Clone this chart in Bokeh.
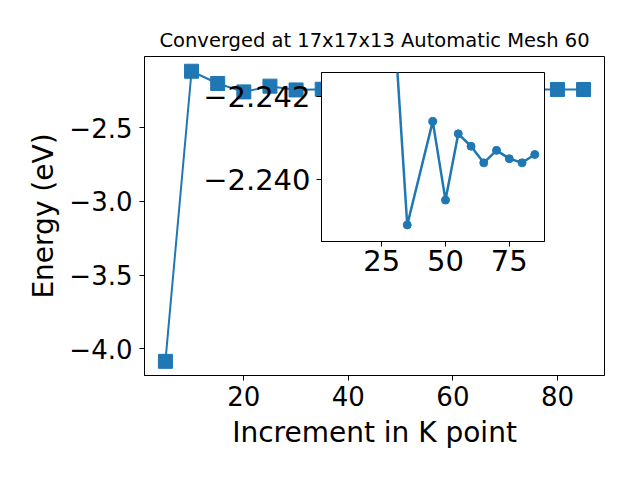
from bokeh.plotting import figure
from bokeh.models import Range1d, FixedTicker
from bokeh.layouts import column
from bokeh.embed import file_html
from bokeh.resources import INLINE

# ---- data ----
k_points = [5, 10, 15, 20, 25, 30, 35, 45, 50, 55, 60, 65, 70, 75, 80, 85]
energy = [-4.084, -2.117, -2.200, -2.257, -2.218, -2.2437, -2.2389, -2.2414,
          -2.2395, -2.2411, -2.2408, -2.2404, -2.2407, -2.2405, -2.2404, -2.2406]
inset_start = 5  # inset shows the series from k = 30 onwards

main_xticks = [20, 40, 60, 80]
main_yticks = [-4.0, -3.5, -3.0, -2.5]
main_ylabels = ["\u22124.0", "\u22123.5", "\u22123.0", "\u22122.5"]
inset_xticks = [25, 50, 75]
inset_yticks = [-2.242, -2.240]
inset_ylabels = ["\u22122.242", "\u22122.240"]

title_text = "Converged at 17x17x13 Automatic Mesh 60"
xlabel = "Increment in K point"
ylabel = "Energy (eV)"

BLUE = "#1f77b4"
FONT = "DejaVu Sans"


def style_axes(fig, tick_size):
    for ax in (fig.xaxis, fig.yaxis):
        ax.major_label_text_font = FONT
        ax.major_label_text_font_size = tick_size
        ax.major_label_text_color = "black"
        ax.axis_label_text_font = FONT
        ax.axis_label_text_font_style = "normal"
        ax.axis_label_text_color = "black"
        ax.axis_line_color = "black"
        ax.major_tick_line_color = "black"
        ax.major_tick_in = 0
        ax.major_tick_out = 5
        ax.minor_tick_line_color = None
        ax.major_label_standoff = 5
    fig.xgrid.grid_line_color = None
    fig.ygrid.grid_line_color = None
    fig.outline_line_color = "black"
    fig.outline_line_width = 1
    fig.outline_line_alpha = 1


LEFT_BORDER = 144
RIGHT_BORDER = 20

# ---- main plot ----
p = figure(frame_width=460, frame_height=319, output_backend="svg",
           toolbar_location=None,
           x_range=Range1d(1, 89), y_range=Range1d(-4.18, -2.017),
           min_border_left=LEFT_BORDER, min_border_right=RIGHT_BORDER,
           min_border_top=56, min_border_bottom=89, title=title_text)
p.title.text_font = FONT
p.title.text_font_style = "normal"
p.title.text_font_size = "19.5px"
p.title.align = "center"
p.title.text_color = "black"
style_axes(p, "26px")
p.yaxis.major_label_standoff = 7
p.xaxis.ticker = FixedTicker(ticks=main_xticks)
p.yaxis.ticker = FixedTicker(ticks=main_yticks)
p.yaxis.major_label_overrides = dict(zip(main_yticks, main_ylabels))
p.xaxis.axis_label = xlabel
p.yaxis.axis_label = ylabel
p.xaxis.axis_label_text_font_size = "28px"
p.yaxis.axis_label_text_font_size = "28px"
p.xaxis.axis_label_standoff = 7
p.yaxis.axis_label_standoff = 6

p.line(k_points, energy, line_width=2, color=BLUE)
p.scatter(k_points, energy, marker="square", size=14, color=BLUE)

# ---- inset ----
ins = figure(frame_width=223, frame_height=169, output_backend="svg",
             toolbar_location=None,
             x_range=Range1d(1.4, 88.8), y_range=Range1d(-2.2385, -2.24258),
             min_border_left=LEFT_BORDER, min_border_right=RIGHT_BORDER,
             min_border_top=10, min_border_bottom=50)
ins.border_fill_color = None
ins.background_fill_color = "white"
style_axes(ins, "29px")
ins.xaxis.major_label_standoff = 3
ins.yaxis.major_label_standoff = 6
ins.xaxis.ticker = FixedTicker(ticks=inset_xticks)
ins.yaxis.ticker = FixedTicker(ticks=inset_yticks)
ins.yaxis.major_label_overrides = dict(zip(inset_yticks, inset_ylabels))

ins_x = k_points[inset_start:]
ins_y = energy[inset_start:]
ins.line(ins_x, ins_y, line_width=2.5, color=BLUE)
ins.scatter(ins_x, ins_y, marker="circle", size=8, color=BLUE)

# overlay the inset on the main plot (negative top margin)
main_height = 56 + 319 + 89
ins.margin = (-(main_height - 62), 0, 0, 321 - LEFT_BORDER)
layout = column(p, ins)

open("out.html", "w").write(file_html(layout, INLINE))
